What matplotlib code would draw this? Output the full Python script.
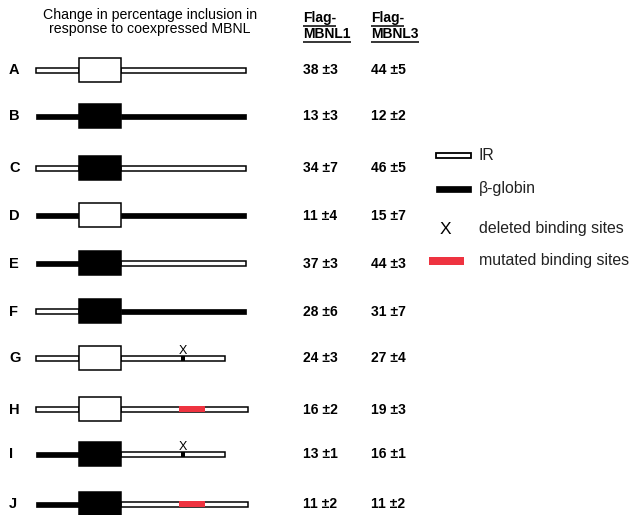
"""Minigene constructs and MBNL-induced change in percentage inclusion."""

import matplotlib

matplotlib.use("Agg")
import matplotlib.pyplot as plt
from matplotlib.patches import Rectangle

plt.rcParams["font.family"] = ["Liberation Sans", "DejaVu Sans"]

# One entry per construct, top to bottom.
labels = ["A", "B", "C", "D", "E", "F", "G", "H", "I", "J"]
# Segment origin: "IR" (open) or "bg" (beta-globin, filled).
left_seg = ["IR", "bg", "IR", "bg", "bg", "IR", "IR", "IR", "bg", "bg"]
exon_seg = ["IR", "bg", "bg", "IR", "bg", "bg", "IR", "IR", "bg", "bg"]
right_seg = ["IR", "bg", "IR", "bg", "IR", "bg", "IR", "IR", "IR", "IR"]
# Binding-site change in the downstream intron.
site_mark = [None, None, None, None, None, None, "del", "mut", "del", "mut"]
mbnl1 = [38, 13, 34, 11, 37, 28, 24, 16, 13, 11]
mbnl1_err = [3, 3, 7, 4, 3, 6, 3, 2, 1, 2]
mbnl3 = [44, 12, 46, 15, 44, 31, 27, 19, 16, 11]
mbnl3_err = [5, 2, 5, 7, 3, 7, 4, 3, 1, 2]

legend_labels = ["IR", "β-globin", "deleted binding sites", "mutated binding sites"]

RED = "#ee3340"

# Layout in pixel units (figure is 630 x 515 px).
row_y = [70, 116, 168, 215, 263, 311, 358, 409, 454, 504]
LINE_X0, EXON_X0, EXON_X1 = 36, 79, 121
RIGHT_END = {None: 246, "del": 225, "mut": 248}
LINE_H, EXON_H = 5, 24


def intron(ax, x0, x1, y, kind):
    if kind == "IR":
        ax.add_patch(Rectangle((x0, y - LINE_H / 2), x1 - x0, LINE_H,
                               facecolor="white", edgecolor="black", lw=1.1))
    else:
        ax.add_patch(Rectangle((x0, y - LINE_H / 2), x1 - x0, LINE_H,
                               facecolor="black", edgecolor="black", lw=0.5))


fig = plt.figure(figsize=(6.3, 5.15), dpi=100)
ax = fig.add_axes([0, 0, 1, 1])
ax.set_xlim(0, 630)
ax.set_ylim(515, 0)
ax.axis("off")

ax.text(150, 22, "Change in percentage inclusion in\nresponse to coexpressed MBNL",
        ha="center", va="center", fontsize=10.2, linespacing=1.05)

for i, lab in enumerate(labels):
    y = row_y[i]
    ax.text(9, y + 0.5, lab, ha="left", va="center", fontsize=10.5, fontweight="bold")
    end = RIGHT_END[site_mark[i]]
    intron(ax, LINE_X0, EXON_X0, y, left_seg[i])
    intron(ax, EXON_X1, end, y, right_seg[i])
    fill = "white" if exon_seg[i] == "IR" else "black"
    ax.add_patch(Rectangle((EXON_X0, y - EXON_H / 2), EXON_X1 - EXON_X0, EXON_H,
                           facecolor=fill, edgecolor="black", lw=1.1, zorder=3))
    if site_mark[i] == "del":
        ax.add_patch(Rectangle((181, y - 2.5), 4, 5, facecolor="black",
                               edgecolor="none", zorder=4))
        ax.text(183, y - 7, "X", ha="center", va="center", fontsize=9)
    elif site_mark[i] == "mut":
        ax.add_patch(Rectangle((179, y - 3), 26, 6, facecolor=RED,
                               edgecolor="none", zorder=4))
    ax.text(303, y + 0.5, f"{mbnl1[i]} ±{mbnl1_err[i]}", ha="left", va="center",
            fontsize=10, fontweight="bold")
    ax.text(371, y + 0.5, f"{mbnl3[i]} ±{mbnl3_err[i]}", ha="left", va="center",
            fontsize=10, fontweight="bold")

# Underlined column headers.
headers = []
for x, name in [(303, "MBNL1"), (371, "MBNL3")]:
    for y, s in [(18, "Flag-"), (34, name)]:
        headers.append(ax.text(x, y, s, ha="left", va="center",
                               fontsize=10, fontweight="bold"))
fig.canvas.draw()
inv = ax.transData.inverted()
for t in headers:
    bb = t.get_window_extent()
    (x0, _), (x1, _) = inv.transform([(bb.x0, bb.y0), (bb.x1, bb.y1)])
    _, y = t.get_position()
    ax.plot([x0, x1], [y + 7.5, y + 7.5], color="black", lw=1.1,
            solid_capstyle="butt")

# Legend.
ax.add_patch(Rectangle((436, 152.5), 35, 5, facecolor="white",
                       edgecolor="black", lw=1.3))
ax.add_patch(Rectangle((436, 186), 35, 6, facecolor="black", edgecolor="black",
                       lw=0.5))
ax.text(445, 229, "X", ha="center", va="center", fontsize=12.5)
ax.add_patch(Rectangle((429, 257), 35, 8, facecolor=RED, edgecolor="none"))
for y, s in zip([155, 189, 229, 261], legend_labels):
    ax.text(479, y, s, ha="left", va="center", fontsize=11.4, color="#222222")

fig.savefig("out.png", dpi=100)
